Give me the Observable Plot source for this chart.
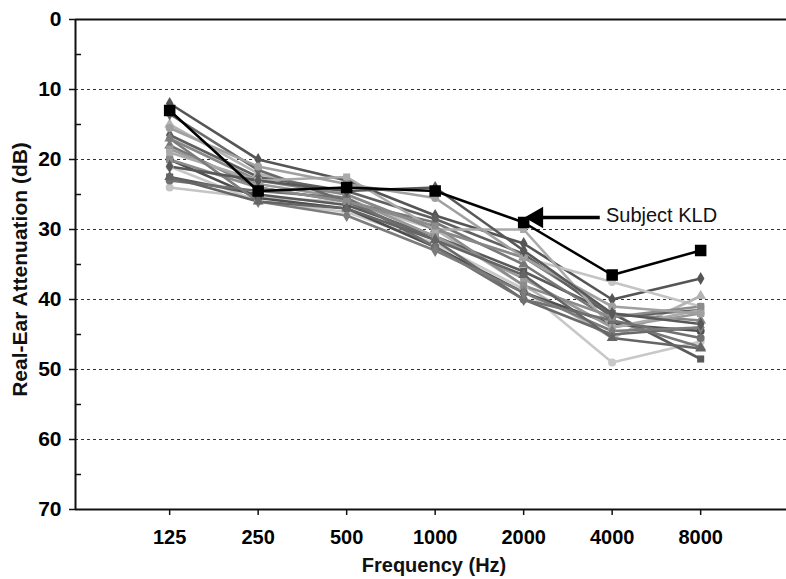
<!DOCTYPE html>
<html>
<head>
<meta charset="utf-8">
<script src="https://cdn.jsdelivr.net/npm/d3@7"></script>
<script src="https://cdn.jsdelivr.net/npm/@observablehq/plot@0.6"></script>
<style>
  html, body { margin: 0; padding: 0; background: #fff; }
  #chart svg { font-family: "Liberation Sans", Arial, sans-serif; }
</style>
</head>
<body>
<div id="chart"></div>
<script>
const freqLabels = ["125", "250", "500", "1000", "2000", "4000", "8000"];
const yTicks = [0, 10, 20, 30, 40, 50, 60, 70];
const yMinorTicks = [5, 15, 25, 35, 45, 55, 65];
const gridValues = [10, 20, 30, 40, 50, 60];

const kldName = "Subject KLD";
const kldValues = [13, 24.5, 24, 24.5, 29, 36.5, 33];

const grayValues = [
  [12, 20, 23, 28, 32, 40, 37],
  [24, 25.5, 26, 30, 34, 37.5, 41],
  [15, 22, 25, 30, 38, 45.5, 39.5],
  [21, 26, 27.5, 32, 38.5, 49, 46],
  [22.5, 25, 26.5, 31, 36, 42, 48.5],
  [18, 24, 26, 29, 35, 43, 46.8],
  [20, 25.5, 27, 32.5, 39, 43.5, 44.5],
  [17, 23, 25, 30, 34, 42, 43],
  [16.5, 22.5, 24.5, 28.5, 33.5, 42.5, 41.5],
  [18.5, 23.5, 25.5, 31, 37, 44, 42],
  [13.5, 21.5, 26, 31.5, 40, 45, 44],
  [19, 23, 22.5, 30, 30, 44, 41.5],
  [23, 24.5, 25.5, 32.5, 40, 43, 45.5],
  [20, 24, 26, 29.5, 38, 42.5, 41],
  [17, 26, 28, 33, 39, 44.5, 44],
  [22.5, 26, 27, 31.5, 36.5, 45.5, 47],
  [15.5, 21, 23.5, 25.5, 34, 41, 42],
  [21, 23, 24.5, 24, 33, 42, 43.5]
];
const grayColors = ["#555555", "#c4c4c4", "#b4b4b4", "#c8c8c8", "#5a5a5a", "#777777",
  "#4e4e4e", "#888888", "#606060", "#9a9a9a", "#6a6a6a", "#aaaaaa",
  "#707070", "#8c8c8c", "#7c7c7c", "#656565", "#a0a0a0", "#585858"];
const graySymbols = ["diamond", "circle", "triangle", "circle", "square", "triangle",
  "circle", "triangle", "diamond", "square", "diamond", "square",
  "circle", "square", "diamond", "triangle", "circle", "diamond"];

// build tidy rows
const grayRows = [];
grayValues.forEach((vals, s) => vals.forEach((v, i) => grayRows.push({
  s, i, v, color: grayColors[s], sym: graySymbols[s]
})));
const kldRows = kldValues.map((v, i) => ({i, v}));

const xMin = -1.064, xMax = 6.97;
const annotY = 28.3;

const chart = Plot.plot({
  width: 786,
  height: 579,
  marginLeft: 75,
  marginRight: 0,
  marginTop: 19,
  marginBottom: 70,
  style: {fontSize: "20px", fontWeight: "bold"},
  x: {domain: [xMin, xMax], axis: null},
  y: {domain: [0, 70], reverse: true, axis: null},
  color: {type: "identity"},
  symbol: {domain: ["circle", "square", "diamond", "triangle"], range: ["circle", "square", "diamond", "triangle"]},
  marks: [
    Plot.ruleY(gridValues, {stroke: "#333", strokeWidth: 1, strokeDasharray: "3,3"}),
    Plot.ruleY([0], {stroke: "#111", strokeWidth: 2}),
    Plot.line(grayRows, {x: "i", y: "v", z: "s", stroke: "color", strokeWidth: 2.6}),
    Plot.dot(grayRows, {x: "i", y: "v", fill: "color", symbol: "sym", r: 4}),
    Plot.line(kldRows, {x: "i", y: "v", stroke: "#000", strokeWidth: 2.5}),
    Plot.dot(kldRows, {x: "i", y: "v", fill: "#000", symbol: "square", r: 6.5}),
    // annotation arrow
    Plot.link([{x1: 4.2, x2: 4.86, y: annotY}], {x1: "x1", x2: "x2", y1: "y", y2: "y", stroke: "#000", strokeWidth: 3.5}),
    Plot.dot([{x: 4.15, y: annotY}], {x: "x", y: "y", symbol: "triangle", rotate: -90, r: 8, fill: "#000"}),
    Plot.text([kldName], {x: 4.93, y: 28, textAnchor: "start", fontSize: 20, fontWeight: "normal", fill: "#111"}),
    // axes
    Plot.ruleY([70], {stroke: "#111", strokeWidth: 2}),
    Plot.ruleX([xMin], {stroke: "#111", strokeWidth: 2}),
    Plot.axisY({ticks: yTicks, tickSize: 6, tickPadding: 8, fontSize: 21, fontWeight: "bold", label: null, stroke: "#111", strokeWidth: 1.5}),
    Plot.axisY({ticks: yMinorTicks, tickSize: 6, dx: 6, tickFormat: () => "", label: null, stroke: "#111", strokeWidth: 1.5}),
    Plot.axisX({ticks: d3.range(freqLabels.length), tickFormat: i => freqLabels[i], tickSize: 6, tickPadding: 14, fontSize: 20, fontWeight: "bold", label: null, stroke: "#111", strokeWidth: 1.5}),
    Plot.text(["Real-Ear Attenuation (dB)"], {frameAnchor: "left", textAnchor: "middle", lineAnchor: "middle", dx: -55, dy: 5, rotate: -90, fontSize: 21, fontWeight: "bold", fill: "#111"}),
    Plot.text(["Frequency (Hz)"], {frameAnchor: "bottom", textAnchor: "middle", lineAnchor: "middle", dx: 3, dy: 56, fontSize: 20, fontWeight: "bold", fill: "#111"})
  ]
});
chart.querySelectorAll('g[aria-label="y-axis tick label"]').forEach(g => { g.setAttribute("font-size", "21"); g.setAttribute("font-weight", "bold"); });
chart.querySelectorAll('g[aria-label="x-axis tick label"]').forEach(g => { g.setAttribute("font-size", "20"); g.setAttribute("font-weight", "bold"); });
document.getElementById("chart").appendChild(chart);
</script>
</body>
</html>
